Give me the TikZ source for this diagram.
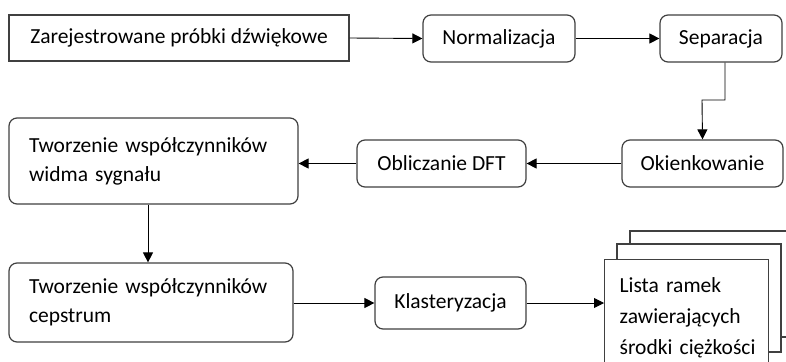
\documentclass[tikz,border=0pt]{standalone}
\usepackage{fontspec}
\setmainfont{Carlito}
\usetikzlibrary{arrows.meta}
\begin{document}
\begin{tikzpicture}[x=1pt,y=-1pt,
  box/.style={draw=black!75,line width=1.2pt,fill=white,inner sep=0pt,font=\fontsize{21.5}{29}\selectfont},
  rbox/.style={box,rounded corners=8pt},
  conn/.style={line width=0.9pt,-{Triangle[length=10pt,width=10pt]}}]
\useasboundingbox (0,0) rectangle (786,361);
\clip (0,0) rectangle (786,361);
% row 1
\node[box,minimum width=340pt,minimum height=46pt] (zar) at (179,38) {Zarejestrowane próbki dźwiękowe};
\node[rbox,minimum width=152pt,minimum height=47pt] (norm) at (499,38.5) {Normalizacja};
\node[rbox,minimum width=122pt,minimum height=47pt] (sep) at (721,38.5) {Separacja};
% row 2
\node[rbox,minimum width=161pt,minimum height=47pt] (okn) at (702.5,163.5) {Okienkowanie};
\node[rbox,minimum width=169pt,minimum height=47pt] (dft) at (441.5,163.5) {Obliczanie DFT};
\node[rbox,minimum width=289pt,minimum height=86pt,text width=249pt,align=left] (widm) at (153.5,161) {Tworzenie współczynników\\widma sygnału};
% row 3
\node[rbox,minimum width=284pt,minimum height=79pt,text width=244pt,align=left] (ceps) at (151,302.5) {Tworzenie współczynników\\cepstrum};
\node[rbox,minimum width=151pt,minimum height=52pt] (klas) at (450.5,303) {Klasteryzacja};
% multi-document
\draw[draw=black!75,line width=1.2pt,fill=white] (630,231) rectangle (794,337);
\draw[draw=black!75,line width=1.2pt,fill=white] (617,244) rectangle (781,352);
\node[box,anchor=north west,minimum width=164pt,minimum height=115pt,text width=164pt,align=left,font=\fontsize{21.5}{31}\selectfont,inner sep=0pt] (doc) at (604,259) {\hspace*{15pt}\parbox[t]{145pt}{\vspace{2pt}Lista ramek\\zawierających\\środki ciężkości}};
% connectors
\draw[conn] (zar.east) -- (norm.west);
\draw[conn] (norm.east) -- (sep.west);
\coordinate (b1) at (725,100);
\coordinate (b2) at (702,100);
\draw[conn] (sep.south -| b1) -- (b1) -- (b2) -- (okn.north);
\draw[conn] (okn.west) -- (dft.west -| dft.east);
\draw[conn] (dft.west) -- (widm.east |- dft.west);
\draw[conn] (widm.south -| 148,0) -- (ceps.north -| 148,0);
\draw[conn] (ceps.east |- klas.west) -- (klas.west);
\draw[conn] (klas.east) -- (doc.west |- klas.east);
\end{tikzpicture}
\end{document}
